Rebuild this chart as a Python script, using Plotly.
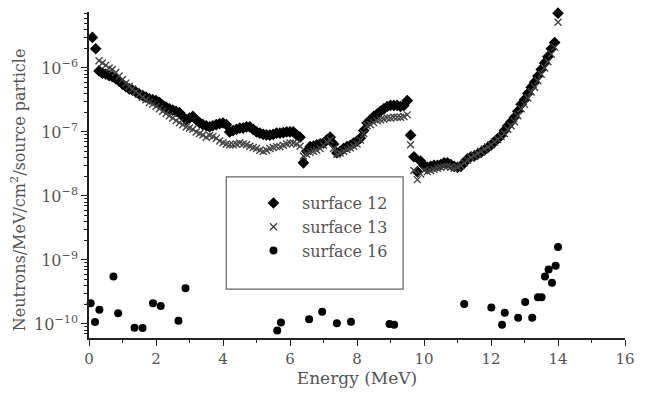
import plotly.graph_objects as go

# ---------------- data ----------------
energy_12 = [0.1, 0.2, 0.3, 0.4, 0.5, 0.6, 0.7, 0.8, 0.9, 1.0,
             1.1, 1.2, 1.3, 1.4, 1.5, 1.6, 1.7, 1.8, 1.9, 2.0,
             2.1, 2.2, 2.3, 2.4, 2.5, 2.6, 2.7, 2.8, 2.9, 3.0,
             3.1, 3.2, 3.3, 3.4, 3.5, 3.6, 3.7, 3.8, 3.9, 4.0,
             4.1, 4.2, 4.3, 4.4, 4.5, 4.6, 4.7, 4.8, 4.9, 5.0,
             5.1, 5.2, 5.3, 5.4, 5.5, 5.6, 5.7, 5.8, 5.9, 6.0,
             6.1, 6.2, 6.3, 6.4, 6.5, 6.6, 6.7, 6.8, 6.9, 7.0,
             7.1, 7.2, 7.3, 7.4, 7.5, 7.6, 7.7, 7.8, 7.9, 8.0,
             8.1, 8.2, 8.3, 8.4, 8.5, 8.6, 8.7, 8.8, 8.9, 9.0,
             9.1, 9.2, 9.3, 9.4, 9.5, 9.6, 9.7, 9.8, 9.9, 10.0,
             10.1, 10.2, 10.3, 10.4, 10.5, 10.6, 10.7, 10.8, 10.9, 11.0,
             11.1, 11.2, 11.3, 11.4, 11.5, 11.6, 11.7, 11.8, 11.9, 12.0,
             12.1, 12.2, 12.3, 12.4, 12.5, 12.6, 12.7, 12.8, 12.9, 13.0,
             13.1, 13.2, 13.3, 13.4, 13.5, 13.6, 13.7, 13.8, 13.9, 14.0]
flux_12 = [3.0e-6, 2.0e-6, 9.0e-7, 8.3e-7, 8.0e-7, 7.6e-7, 7.3e-7, 6.8e-7, 6.2e-7, 5.6e-7,
           5.1e-7, 4.7e-7, 4.5e-7, 4.2e-7, 3.9e-7, 3.7e-7, 3.5e-7, 3.3e-7, 3.2e-7, 3.1e-7,
           2.9e-7, 2.6e-7, 2.45e-7, 2.3e-7, 2.2e-7, 2.1e-7, 2.0e-7, 1.75e-7, 1.55e-7, 1.65e-7,
           1.75e-7, 1.55e-7, 1.4e-7, 1.3e-7, 1.25e-7, 1.2e-7, 1.25e-7, 1.3e-7, 1.35e-7, 1.38e-7,
           1.3e-7, 1.0e-7, 1.05e-7, 1.1e-7, 1.15e-7, 1.15e-7, 1.2e-7, 1.2e-7, 1.1e-7, 1.0e-7,
           9.6e-8, 9.2e-8, 9.0e-8, 8.9e-8, 9.2e-8, 9.6e-8, 9.6e-8, 9.8e-8, 1.0e-7, 1.0e-7,
           1.0e-7, 9.0e-8, 8.3e-8, 3.3e-8, 5.0e-8, 5.9e-8, 6.0e-8, 6.3e-8, 6.5e-8, 6.7e-8,
           7.5e-8, 8.3e-8, 6.5e-8, 4.7e-8, 5.0e-8, 5.5e-8, 5.9e-8, 6.2e-8, 6.7e-8, 7.2e-8,
           8.0e-8, 1.05e-7, 1.38e-7, 1.55e-7, 1.75e-7, 1.9e-7, 2.1e-7, 2.3e-7, 2.5e-7, 2.6e-7,
           2.6e-7, 2.6e-7, 2.5e-7, 2.6e-7, 3.1e-7, 8.9e-8, 4.1e-8, 2.4e-8, 3.5e-8, 3.0e-8,
           2.8e-8, 2.9e-8, 3.0e-8, 3.0e-8, 3.1e-8, 3.3e-8, 3.3e-8, 3.1e-8, 2.9e-8, 2.8e-8,
           2.9e-8, 3.3e-8, 3.8e-8, 4.1e-8, 4.2e-8, 4.5e-8, 4.8e-8, 5.2e-8, 5.7e-8, 6.2e-8,
           7.0e-8, 7.8e-8, 8.8e-8, 1.05e-7, 1.25e-7, 1.45e-7, 1.7e-7, 2.1e-7, 2.7e-7, 3.2e-7,
           4.0e-7, 5.0e-7, 6.0e-7, 7.5e-7, 9.5e-7, 1.2e-6, 1.5e-6, 2.0e-6, 2.5e-6, 7.2e-6]

energy_13 = [0.3, 0.4, 0.5, 0.6, 0.7, 0.8, 0.9, 1.0,
             1.1, 1.2, 1.3, 1.4, 1.5, 1.6, 1.7, 1.8, 1.9, 2.0,
             2.1, 2.2, 2.3, 2.4, 2.5, 2.6, 2.7, 2.8, 2.9, 3.0,
             3.1, 3.2, 3.3, 3.4, 3.5, 3.6, 3.7, 3.8, 3.9, 4.0,
             4.1, 4.2, 4.3, 4.4, 4.5, 4.6, 4.7, 4.8, 4.9, 5.0,
             5.1, 5.2, 5.3, 5.4, 5.5, 5.6, 5.7, 5.8, 5.9, 6.0,
             6.1, 6.2, 6.3, 6.4, 6.5, 6.6, 6.7, 6.8, 6.9, 7.0,
             7.1, 7.2, 7.3, 7.4, 7.5, 7.6, 7.7, 7.8, 7.9, 8.0,
             8.1, 8.2, 8.3, 8.4, 8.5, 8.6, 8.7, 8.8, 8.9, 9.0,
             9.1, 9.2, 9.3, 9.4, 9.5, 9.6, 9.7, 9.8, 9.9, 10.0,
             10.1, 10.2, 10.3, 10.4, 10.5, 10.6, 10.7, 10.8, 10.9, 11.0,
             11.1, 11.2, 11.3, 11.4, 11.5, 11.6, 11.7, 11.8, 11.9, 12.0,
             12.1, 12.2, 12.3, 12.4, 12.5, 12.6, 12.7, 12.8, 12.9, 13.0,
             13.1, 13.2, 13.3, 13.4, 13.5, 13.6, 13.7, 13.8, 13.9, 14.0]
flux_13 = [1.3e-6, 1.2e-6, 1.1e-6, 1.0e-6, 9.5e-7, 8.5e-7, 7.5e-7, 6.6e-7,
           5.8e-7, 5.2e-7, 4.7e-7, 4.3e-7, 3.9e-7, 3.5e-7, 3.2e-7, 2.9e-7, 2.7e-7, 2.5e-7,
           2.3e-7, 2.1e-7, 1.95e-7, 1.8e-7, 1.65e-7, 1.5e-7, 1.4e-7, 1.3e-7, 1.2e-7, 1.15e-7,
           1.1e-7, 1.0e-7, 9.5e-8, 9.0e-8, 8.3e-8, 8.8e-8, 8.5e-8, 8.0e-8, 7.2e-8, 6.8e-8,
           6.5e-8, 6.3e-8, 6.3e-8, 6.5e-8, 6.7e-8, 6.5e-8, 6.3e-8, 6.0e-8, 5.7e-8, 5.5e-8,
           5.2e-8, 5.0e-8, 5.2e-8, 5.5e-8, 5.7e-8, 5.9e-8, 5.9e-8, 6.2e-8, 6.5e-8, 6.7e-8,
           6.7e-8, 6.5e-8, 6.0e-8, 4.2e-8, 4.5e-8, 4.8e-8, 5.0e-8, 5.2e-8, 5.5e-8, 6.2e-8,
           7.0e-8, 7.5e-8, 5.5e-8, 4.5e-8, 4.7e-8, 5.0e-8, 5.3e-8, 5.6e-8, 6.0e-8, 6.5e-8,
           7.5e-8, 9.5e-8, 1.25e-7, 1.3e-7, 1.4e-7, 1.5e-7, 1.55e-7, 1.6e-7, 1.65e-7, 1.65e-7,
           1.7e-7, 1.7e-7, 1.7e-7, 1.75e-7, 1.85e-7, 6.3e-8, 2.5e-8, 1.8e-8, 2.2e-8, 2.5e-8,
           2.4e-8, 2.5e-8, 2.6e-8, 2.7e-8, 2.8e-8, 2.9e-8, 2.9e-8, 2.8e-8, 2.7e-8, 2.8e-8,
           3.0e-8, 3.3e-8, 3.6e-8, 4.0e-8, 4.3e-8, 4.6e-8, 5.0e-8, 5.4e-8, 5.8e-8, 6.3e-8,
           7.0e-8, 7.6e-8, 8.5e-8, 9.5e-8, 1.1e-7, 1.25e-7, 1.45e-7, 1.8e-7, 2.3e-7, 2.7e-7,
           3.4e-7, 4.2e-7, 5.0e-7, 6.3e-7, 8.0e-7, 1.0e-6, 1.25e-6, 1.65e-6, 2.1e-6, 5.2e-6]

energy_16 = [0.05, 0.18, 0.31, 0.73, 0.87, 1.36, 1.60, 1.91, 2.14, 2.67, 2.88,
             5.62, 5.73, 6.57, 6.96, 7.40, 7.82, 8.97, 9.11,
             11.2, 12.01, 12.33, 12.41, 12.81, 13.02, 13.23, 13.40, 13.51,
             13.61, 13.72, 13.82, 13.93, 14.0]
flux_16 = [2.1e-10, 1.07e-10, 1.66e-10, 5.5e-10, 1.47e-10, 8.7e-11, 8.6e-11, 2.1e-10, 1.9e-10, 1.12e-10, 3.6e-10,
           7.9e-11, 1.05e-10, 1.18e-10, 1.55e-10, 1.02e-10, 1.08e-10, 1.0e-10, 9.7e-11,
           2.05e-10, 1.8e-10, 9.7e-11, 1.5e-10, 1.25e-10, 2.2e-10, 1.25e-10, 2.6e-10, 2.6e-10,
           5.5e-10, 7.1e-10, 4.4e-10, 8.1e-10, 1.6e-9]

series_names = ["surface 12", "surface 13", "surface 16"]
x_ticks = [0, 2, 4, 6, 8, 10, 12, 14, 16]
y_major_ticks = [1e-10, 1e-9, 1e-8, 1e-7, 1e-6]
y_tick_labels = ["10<sup>−10</sup>", "10<sup>−9</sup>", "10<sup>−8</sup>",
                 "10<sup>−7</sup>", "10<sup>−6</sup>"]
y_minor_mantissas = [2, 3, 4, 5, 6, 7, 8, 9]
y_minor_decades = [1e-11, 1e-10, 1e-9, 1e-8, 1e-7, 1e-6]
x_title = "Energy (MeV)"
y_title = "Neutrons/MeV/cm<sup>2</sup>/source particle"

# ---------------- figure ----------------
FONT = "DejaVu Serif"
GREY = "#555555"
y_minor_ticks = [m * d for d in y_minor_decades for m in y_minor_mantissas]

fig = go.Figure()
fig.add_trace(go.Scatter(
    x=energy_12, y=flux_12, mode="markers", name=series_names[0],
    legendgroup="a", cliponaxis=False,
    marker=dict(symbol="diamond", size=9, color="black")))
fig.add_trace(go.Scatter(
    x=energy_13, y=flux_13, mode="markers", name=series_names[1],
    legendgroup="b", cliponaxis=False,
    marker=dict(symbol="x-thin", size=7, color="#444444",
                line=dict(width=1.4, color="#444444"))))
fig.add_trace(go.Scatter(
    x=energy_16, y=flux_16, mode="markers", name=series_names[2],
    legendgroup="c", cliponaxis=False,
    marker=dict(symbol="circle", size=8, color="black")))

fig.update_layout(
    width=647, height=403,
    margin=dict(l=89, r=12, t=12, b=65),
    paper_bgcolor="white", plot_bgcolor="white",
    font=dict(family=FONT, size=15, color=GREY),
    showlegend=True,
    legend=dict(x=0.291, y=0.466, xanchor="left", yanchor="top",
                bgcolor="rgba(0,0,0,0)", borderwidth=0,
                itemwidth=47, tracegroupgap=0, traceorder="grouped",
                font=dict(family=FONT, size=16, color=GREY)),
    shapes=[dict(type="rect", xref="paper", yref="paper",
                 x0=0.256, x1=0.586, y0=0.150, y1=0.494,
                 line=dict(color="#666666", width=1.2))],
    annotations=[dict(text=y_title, textangle=-90, xref="paper", yref="paper",
                      x=-0.130, y=0.454, xanchor="center", yanchor="middle",
                      showarrow=False,
                      font=dict(family=FONT, size=16, color=GREY))],
)

fig.update_xaxes(
    range=[0, 16], tickvals=x_ticks,
    showline=True, linecolor="#222222", linewidth=1.5,
    ticks="outside", ticklen=6, tickwidth=1.2, tickcolor="#222222",
    minor=dict(ticks="outside", ticklen=3, dtick=1, tickcolor="#222222"),
    showgrid=False, zeroline=False, ticklabeloverflow="allow",
    tickfont=dict(family=FONT, size=15, color=GREY),
    title=dict(text=x_title, font=dict(family=FONT, size=17, color=GREY), standoff=4),
)
fig.update_yaxes(
    type="log", range=[-10.22, -5.125],
    tickvals=y_major_ticks, ticktext=y_tick_labels,
    showline=True, linecolor="#222222", linewidth=1.5,
    ticks="outside", ticklen=6, tickwidth=1.2, tickcolor="#222222",
    minor=dict(ticks="outside", ticklen=3, tickvals=y_minor_ticks,
               tickcolor="#222222", tickwidth=1),
    showgrid=False, zeroline=False,
    tickfont=dict(family=FONT, size=16, color=GREY),
)

fig.write_html("out.html", config={"displayModeBar": False},
               post_script="document.body.style.margin='0';window.dispatchEvent(new Event('resize'));")
